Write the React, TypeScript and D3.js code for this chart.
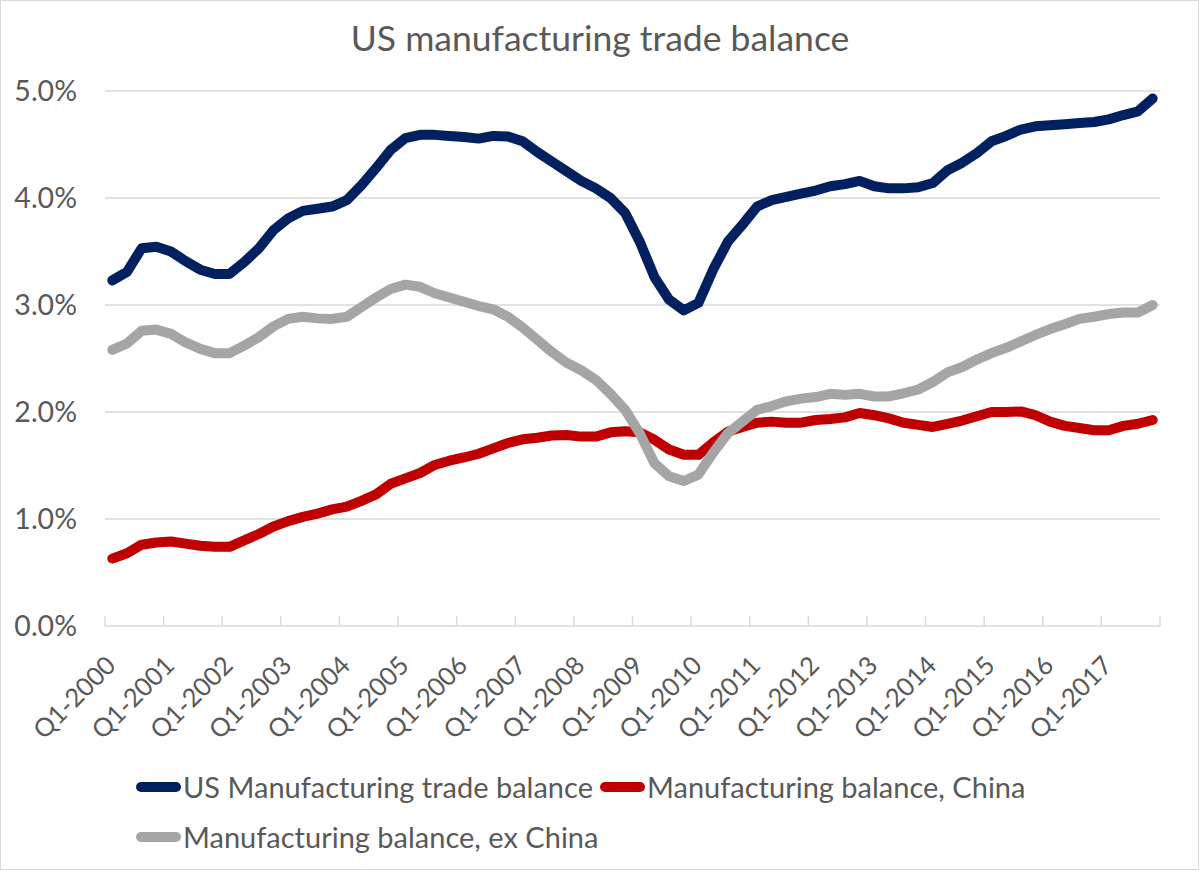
import React from "react";
import * as d3 from "d3";

const years = [2000, 2001, 2002, 2003, 2004, 2005, 2006, 2007, 2008, 2009, 2010, 2011, 2012, 2013, 2014, 2015, 2016, 2017];
const quarters = ["Q1", "Q2", "Q3", "Q4"];
const categories: string[] = [];
years.forEach((y) => quarters.forEach((q) => categories.push(`${q}-${y}`)));

const yTicks = [0, 1, 2, 3, 4, 5];

const usTotal = [
  3.23, 3.31, 3.53, 3.545, 3.50, 3.41, 3.33, 3.29, 3.29, 3.40,
  3.53, 3.70, 3.81, 3.88, 3.90, 3.92, 3.98, 4.12, 4.28, 4.45,
  4.56, 4.59, 4.59, 4.58, 4.57, 4.555, 4.58, 4.575, 4.53, 4.43,
  4.34, 4.25, 4.16, 4.09, 4.00, 3.86, 3.59, 3.26, 3.05, 2.95,
  3.02, 3.33, 3.59, 3.75, 3.92, 3.98, 4.01, 4.04, 4.07, 4.11,
  4.13, 4.16, 4.11, 4.09, 4.09, 4.10, 4.14, 4.26, 4.33, 4.42,
  4.53, 4.58, 4.64, 4.67, 4.68, 4.69, 4.70, 4.71, 4.735, 4.775,
  4.81, 4.93,
];

const china = [
  0.63, 0.68, 0.76, 0.78, 0.79, 0.77, 0.75, 0.74, 0.74, 0.80,
  0.86, 0.93, 0.98, 1.02, 1.05, 1.09, 1.115, 1.17, 1.23, 1.33,
  1.38, 1.43, 1.505, 1.545, 1.575, 1.61, 1.66, 1.71, 1.745, 1.76,
  1.78, 1.785, 1.77, 1.77, 1.81, 1.82, 1.81, 1.74, 1.65, 1.60,
  1.60, 1.715, 1.815, 1.86, 1.90, 1.91, 1.90, 1.90, 1.925, 1.935,
  1.95, 1.99, 1.97, 1.94, 1.90, 1.88, 1.86, 1.89, 1.92, 1.96,
  2.00, 2.00, 2.005, 1.97, 1.91, 1.87, 1.85, 1.83, 1.83, 1.87,
  1.89, 1.925,
];

const exChina = [
  2.58, 2.64, 2.76, 2.77, 2.73, 2.65, 2.59, 2.55, 2.55, 2.62,
  2.70, 2.80, 2.87, 2.89, 2.875, 2.87, 2.89, 2.98, 3.07, 3.15,
  3.19, 3.17, 3.11, 3.07, 3.03, 2.99, 2.96, 2.89, 2.79, 2.675,
  2.56, 2.46, 2.39, 2.30, 2.17, 2.02, 1.80, 1.52, 1.40, 1.355,
  1.415, 1.62, 1.80, 1.91, 2.02, 2.055, 2.10, 2.125, 2.14, 2.17,
  2.16, 2.17, 2.145, 2.145, 2.175, 2.21, 2.28, 2.37, 2.42, 2.49,
  2.55, 2.60, 2.66, 2.72, 2.775, 2.82, 2.87, 2.89, 2.915, 2.93,
  2.93, 3.00,
];

const seriesNames = ["US Manufacturing trade balance", "Manufacturing balance, China", "Manufacturing balance, ex China"];
const seriesColors = ["#002060", "#C00000", "#A5A5A5"];
const seriesValues = [usTotal, china, exChina];

const W = 1200;
const H = 871;
const FONT = "Lato, 'Open Sans', sans-serif";
const TEXT = "#595959";

export default function App() {
  const x = d3.scaleBand<string>().domain(categories).range([105, 1160]).padding(0);
  const y = d3.scaleLinear().domain([0, 5]).range([626, 91]);
  const cx = (c: string) => (x(c) as number) + x.bandwidth() / 2;

  const line = d3
    .line<number>()
    .x((_, i) => cx(categories[i]))
    .y((d) => y(d));

  const tickCats = categories.filter((_, i) => i % 4 === 0);
  const tickXs = tickCats.map((c) => x(c) as number).concat([1160]);

  const legend = [
    { i: 0, lx: 137, ly: 787 },
    { i: 1, lx: 601, ly: 787 },
    { i: 2, lx: 137, ly: 837 },
  ];

  return (
    <svg
      width={W}
      height={H}
      style={{ position: "absolute", left: 0, top: 0, background: "#fff" }}
      fontFamily={FONT}
    >
      <rect x={0.5} y={0.5} width={W - 2} height={H - 2} fill="#fff" stroke="#d9d9d9" />
      <text x={600} y={51} textAnchor="middle" fontSize={35.5} fill={TEXT}>
        US manufacturing trade balance
      </text>

      {yTicks.map((t) => (
        <g key={t}>
          {t > 0 && (
            <line x1={105} x2={1160} y1={y(t)} y2={y(t)} stroke="#d9d9d9" strokeWidth={1.5} />
          )}
          <text x={77} y={y(t)} dy="0.35em" textAnchor="end" fontSize={28.5} fill={TEXT}>
            {d3.format(".1%")(t / 100)}
          </text>
        </g>
      ))}

      <line x1={105} x2={1160} y1={y(0)} y2={y(0)} stroke="#d9d9d9" strokeWidth={1.5} />
      {tickXs.map((tx, i) => (
        <line key={i} x1={tx} x2={tx} y1={y(0)} y2={y(0) - 10} stroke="#d9d9d9" strokeWidth={1.5} />
      ))}

      {tickCats.map((c) => (
        <text
          key={c}
          transform={`translate(${cx(c) + 5},${667}) rotate(-45)`}
          textAnchor="end"
          fontSize={25.5}
          fill={TEXT}
        >
          {c}
        </text>
      ))}

      {seriesValues.map((vals, k) => (
        <path
          key={k}
          d={line(vals) as string}
          fill="none"
          stroke={seriesColors[k]}
          strokeWidth={10}
          strokeLinejoin="round"
          strokeLinecap="round"
        />
      ))}

      {legend.map(({ i, lx, ly }) => (
        <g key={i}>
          <line x1={lx + 4} x2={lx + 39} y1={ly} y2={ly} stroke={seriesColors[i]} strokeWidth={10} strokeLinecap="round" />
          <text x={lx + 46} y={ly + 11} fontSize={29} fill={TEXT}>
            {seriesNames[i]}
          </text>
        </g>
      ))}
    </svg>
  );
}
